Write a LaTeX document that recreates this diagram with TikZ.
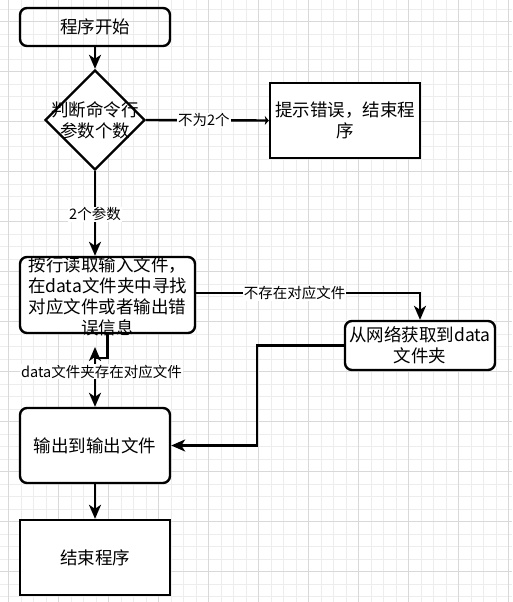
\documentclass[tikz,border=0pt]{standalone}
\usepackage{fontspec}
\setmainfont{Noto Sans CJK SC}
\usetikzlibrary{arrows.meta,shapes.geometric}
\begin{document}
\begin{tikzpicture}[x=1pt,y=-1pt,
  gridminor/.style={draw=black!7, line width=0.8pt},
  gridmajor/.style={draw=black!15, line width=0.8pt},
  box/.style={draw=black, line width=2.4pt, minimum width=150pt, minimum height=75pt, inner sep=0pt, align=center, font={\fontsize{17.5}{21}\selectfont}},
  rbox/.style={box, rounded corners=7pt},
  lbl/.style={fill=white, inner sep=1pt, font={\fontsize{14.5}{17}\selectfont}},
  conn/.style={draw=black, line width=2.4pt},
  arr/.style={conn, -{Stealth[length=14pt,width=12pt,inset=4pt]}},
  txt/.style={align=center, inner sep=0pt, font={\fontsize{17.5}{21}\selectfont}}
]
\useasboundingbox (0,0) rectangle (512,602);
\fill[white] (0,0) rectangle (512,602);
% grid
\foreach \i in {0,...,40} {\draw[gridminor] ({8.7+12.5*\i},0) -- ++(0,602);}
\foreach \i in {0,...,47} {\draw[gridminor] (0,{9.2+12.5*\i}) -- ++(512,0);}
\foreach \i in {0,...,10} {\draw[gridmajor] ({8.7+50*\i},0) -- ++(0,602);}
\foreach \i in {0,...,11} {\draw[gridmajor] (0,{21.7+50*\i}) -- ++(512,0);}

% nodes
\node[rbox, minimum height=38pt] (start) at (95,27) {程序开始};
\node[diamond, draw=black, line width=2.4pt, fill=white, minimum width=100pt, minimum height=100pt, inner sep=0pt] (dec) at (95,120) {};
\node[txt] (dectext) at (95,120) {判断命令行\\参数个数};
\node[box, fill=white] (err) at (345,120.5) {提示错误，结束程\\序};
\node[rbox, fill=white, minimum width=175pt, minimum height=76pt] (read) at (107.5,295) {};
\node[txt] (readtext) at (107.5,296) {按行读取输入文件，\\在data文件夹中寻找\\对应文件或者输出错\\误信息};
\node[rbox, fill=white, minimum height=49pt] (net) at (420,345.5) {从网络获取到data\\文件夹};
\node[rbox, fill=white] (out) at (95,445.5) {输出到输出文件};
\node[box, fill=white] (end) at (95,557.5) {结束程序};

% connectors
\draw[arr] (start.south) -- (dec.north);
\draw[conn, -{Stealth[length=4pt,width=9pt,inset=1pt]}] (dec.east) -- (err.west)
  node[lbl, pos=0.47] (l1) {不为2个};
\draw[arr] (dec.south) -- (dec.south |- read.north)
  node[lbl, pos=0.51] (l2) {2个参数};
\draw[arr] ([yshift=2pt]read.east) -| (net.north)
  node[lbl, pos=0.22] (l3) {不存在对应文件};
\coordinate (c1) at (257,400);
\draw[arr] (net.west) -| (c1) |- (out.east);
\coordinate (k) at (95,358);
\coordinate (kt) at (95,347);
\draw[conn] (read.south) |- (k);
\draw[arr] (k) -- (kt);
\draw[arr] (k) -- (out.north)
  node[lbl, pos=0.28, xshift=6.5pt] (l4) {data文件夹存在对应文件};
\draw[arr] (out.south) -- (end.north);
\end{tikzpicture}
\end{document}
